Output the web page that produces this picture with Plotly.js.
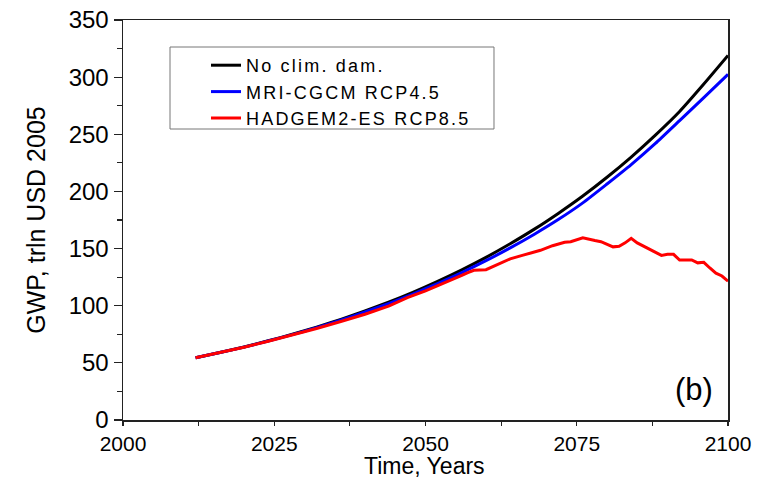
<!DOCTYPE html>
<html>
<head>
<meta charset="utf-8">
<script src="https://cdn.plot.ly/plotly-3.0.1.min.js"></script>
<style>
  html, body { margin: 0; padding: 0; background: #fff; }
  #chart { width: 762px; height: 480px; }
  .legendtext { letter-spacing: 2.2px; }
</style>
</head>
<body>
<div id="chart"></div>
<script>
// Data
const years = [2012, 2016, 2020, 2024, 2028, 2032, 2036, 2040, 2044, 2048, 2052, 2056,
               2060, 2064, 2068, 2072, 2076, 2080, 2084, 2088, 2092, 2096, 2100];
const noDamage = [54.5, 59.0, 63.9, 69.3, 75.0, 81.3, 88.0, 95.4, 103.3, 111.9, 121.3, 131.4,
                  142.3, 154.2, 167.0, 181.0, 196.0, 212.4, 230.1, 249.3, 270.0, 294.0, 319.0];
const mriRcp45 = [54.5, 59.0, 63.8, 69.1, 74.7, 80.8, 87.4, 94.5, 102.1, 110.4, 119.4, 129.0,
                  139.4, 150.6, 162.6, 175.6, 190.0, 206.5, 223.5, 242.0, 262.0, 282.0, 302.5];
const redYears = [2012, 2016, 2020, 2024, 2028, 2032, 2036, 2040, 2044, 2047, 2050, 2052, 2054,
                  2056, 2057, 2058, 2060, 2061, 2062, 2064, 2066, 2068, 2069, 2071, 2073, 2074,
                  2076, 2078, 2079, 2081, 2082, 2083, 2084, 2085, 2087, 2089, 2090, 2091, 2092,
                  2094, 2095, 2096, 2097, 2098, 2099, 2100];
const hadRcp85 = [54.5, 59.0, 63.7, 68.9, 74.3, 80.1, 86.2, 92.5, 99.8, 107.0, 113.0, 117.5, 121.5,
                  126.5, 129.0, 131.0, 131.5, 134.0, 136.5, 141.0, 144.0, 147.0, 148.5, 152.5, 155.5, 156.0,
                  159.5, 157.0, 156.0, 151.5, 152.0, 155.0, 159.0, 155.0, 149.5, 144.0, 145.0, 145.0, 140.0,
                  140.0, 137.5, 138.0, 133.0, 128.5, 126.0, 121.5];
const seriesNames = ["No clim. dam.", "MRI-CGCM RCP4.5", "HADGEM2-ES RCP8.5"];
const xTicks = [2000, 2025, 2050, 2075, 2100];
const yTicks = [0, 50, 100, 150, 200, 250, 300, 350];
const xTitle = "Time, Years";
const yTitle = "GWP, trln USD 2005";
const panelLabel = "(b)";

const FONT = "Liberation Sans, Arial, sans-serif";

const traces = [
  { x: years, y: noDamage, name: seriesNames[0], mode: "lines",
    line: { color: "#000000", width: 3, shape: "spline", smoothing: 0.6 } },
  { x: years, y: mriRcp45, name: seriesNames[1], mode: "lines",
    line: { color: "#0000ff", width: 3, shape: "spline", smoothing: 0.6 } },
  { x: redYears, y: hadRcp85, name: seriesNames[2], mode: "lines",
    line: { color: "#ff0000", width: 3 } }
];

const layout = {
  width: 762, height: 480,
  margin: { l: 123, r: 34, t: 20, b: 60 },
  paper_bgcolor: "#ffffff", plot_bgcolor: "#ffffff",
  font: { family: FONT, color: "#000000" },
  showlegend: true,
  legend: {
    x: 0.1372, y: 0.9325, xanchor: "left", yanchor: "top",
    bgcolor: "rgba(0,0,0,0)", borderwidth: 0,
    font: { family: FONT, size: 18, color: "#000" },
    tracegroupgap: 0
  },
  shapes: [
    { type: "rect", xref: "paper", yref: "paper",
      x0: 0.0777, x1: 0.6132, y0: 0.7275, y1: 0.9325,
      line: { color: "#777777", width: 1 }, fillcolor: "rgba(0,0,0,0)" }
  ],
  xaxis: {
    range: [2000, 2100], tickvals: xTicks, ticktext: xTicks.map(String),
    ticks: "outside", ticklen: 4, tickwidth: 1.2, tickcolor: "#222",
    minor: { dtick: 12.5, tick0: 2000, ticks: "outside", ticklen: 4, tickcolor: "#222", tickwidth: 1.2, showgrid: false },
    showline: true, linecolor: "#222", linewidth: 1.5, mirror: true,
    showgrid: false, zeroline: false,
    tickfont: { family: FONT, size: 21, color: "#000" }
  },
  yaxis: {
    range: [0, 350], tickvals: yTicks, ticktext: yTicks.map(String),
    ticks: "outside", ticklen: 8, tickwidth: 1.2, tickcolor: "#222",
    minor: { dtick: 25, tick0: 0, ticks: "outside", ticklen: 5, tickcolor: "#222", tickwidth: 1.2, showgrid: false },
    showline: true, linecolor: "#222", linewidth: 1.5, mirror: true,
    showgrid: false, zeroline: false,
    tickfont: { family: FONT, size: 24, color: "#000" },
    title: { text: yTitle, font: { family: FONT, size: 25, color: "#000" }, standoff: 16 }
  },
  annotations: [
    { text: panelLabel, xref: "paper", yref: "paper", x: 0.944, y: 0.0775,
      xanchor: "center", yanchor: "middle", showarrow: false,
      font: { family: FONT, size: 31, color: "#000" } },
    { text: xTitle, xref: "paper", yref: "paper", x: 0.499, y: -0.149,
      xanchor: "center", yanchor: "bottom", showarrow: false, borderpad: 0,
      font: { family: FONT, size: 23, color: "#000" } }
  ]
};

Plotly.newPlot("chart", traces, layout, { displayModeBar: false, staticPlot: true });
</script>
</body>
</html>
